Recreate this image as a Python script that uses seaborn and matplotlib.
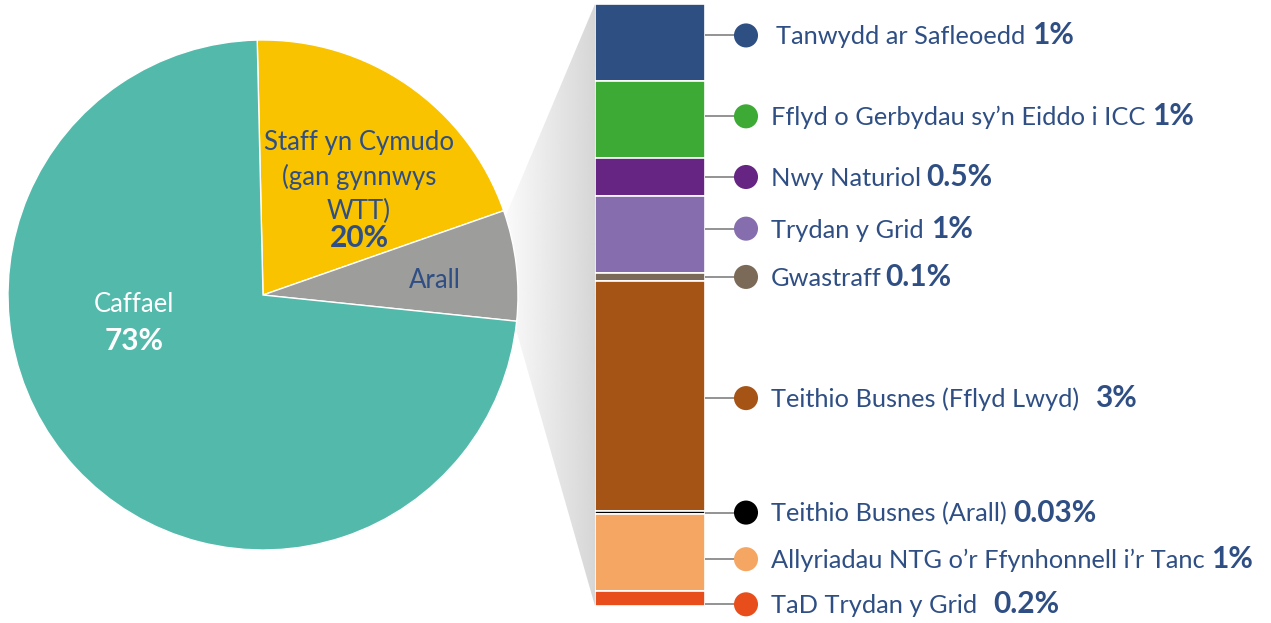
import matplotlib
matplotlib.use("Agg")
import matplotlib.pyplot as plt
import numpy as np
import seaborn as sns
from matplotlib.patches import Polygon

# ---------------- data ----------------
pie_labels = ["Staff yn Cymudo\n(gan gynnwys\nWTT)", "Arall", "Caffael"]
pie_pct_text = ["20%", "", "73%"]
pie_values = [20, 7, 73]
pie_colors = ["#F9C300", "#9D9D9C", "#53BAAB"]

bar_labels = [
    "Tanwydd ar Safleoedd",
    "Fflyd o Gerbydau sy\u2019n Eiddo i ICC",
    "Nwy Naturiol",
    "Trydan y Grid",
    "Gwastraff",
    "Teithio Busnes (Fflyd Lwyd)",
    "Teithio Busnes (Arall)",
    "Allyriadau NTG o\u2019r Ffynhonnell i\u2019r Tanc",
    "TaD Trydan y Grid",
]
bar_values = [1, 1, 0.5, 1, 0.1, 3, 0.03, 1, 0.2]
bar_pct_text = ["1%", "1%", "0.5%", "1%", "0.1%", "3%", "0.03%", "1%", "0.2%"]
bar_colors = ["#2E4F82", "#3DAA35", "#662483", "#866EAE", "#7B6A58",
              "#A65416", "#000000", "#F5A663", "#E84E1B"]

# ---------------- layout ----------------
W, H = 1271, 623
TXT = "#2F4F84"
FONT = ["Lato", "DejaVu Sans"]
FS = 18.3
FS_PIE = 18.5
FS_PCT = 21.5
FS_PIE_PCT = 21.5

sns.set_theme(style="white")
plt.rcParams["font.family"] = FONT

fig = plt.figure(figsize=(W / 100, H / 100), dpi=100)
ax = fig.add_axes([0, 0, 1, 1])


def Y(py):
    return H - py


# pie
cx, cy, R = 263, Y(295), 255
ax.pie(pie_values, colors=pie_colors, startangle=91.3, counterclock=False,
       center=(cx, cy), radius=R,
       wedgeprops=dict(edgecolor="white", linewidth=1.0), frame=True)

# connector gradient
poly = Polygon([(595, Y(4)), (595, Y(606)), (517, Y(333)), (480, Y(290)), (507, Y(213))],
               closed=True, transform=ax.transData, facecolor="none", edgecolor="none")
ax.add_patch(poly)
grad = np.linspace(0.99, 0.84, 256)[None, :]
im = ax.imshow(grad, cmap="gray", vmin=0, vmax=1, extent=[500, 595, Y(606), Y(4)],
               aspect="auto", zorder=0, interpolation="bilinear")
im.set_clip_path(poly)

# pie labels
ax.text(359, Y(177), pie_labels[0], ha="center", va="center", color=TXT,
        fontsize=FS_PIE, linespacing=1.42, zorder=5)
ax.text(359, Y(238), pie_pct_text[0], ha="center", va="center", color=TXT,
        fontsize=FS_PIE_PCT, fontweight="bold", zorder=5)
ax.text(435, Y(280), pie_labels[1], ha="center", va="center", color=TXT,
        fontsize=FS_PIE, zorder=5)
ax.text(134, Y(304), pie_labels[2], ha="center", va="center", color="white",
        fontsize=FS_PIE, zorder=5)
ax.text(134, Y(341), pie_pct_text[2], ha="center", va="center", color="white",
        fontsize=FS_PIE_PCT, fontweight="bold", zorder=5)

# stacked bar
total = sum(bar_values)
bx0, bx1, by0, by1 = 595, 705, 4, 606
bax = fig.add_axes([bx0 / W, (H - by1) / H, (bx1 - bx0) / W, (by1 - by0) / H])
bax.set_xlim(-0.5, 0.5)
bax.set_ylim(total, 0)
bax.axis("off")
cum = np.concatenate([[0], np.cumsum(bar_values)[:-1]])
for v, b, c in zip(bar_values, cum, bar_colors):
    bax.bar(0, v, bottom=b, width=1.0, color=c, edgecolor="white", linewidth=1.2)

# labels with markers
label_offsets = [-7, -3, 0, -6, 0, 2, 0, 7, 6]
centers = by0 + (cum + np.array(bar_values) / 2) / total * (by1 - by0)
label_y = centers + np.array(label_offsets)
mx = 746
for yy in label_y:
    ax.plot([bx1, mx], [Y(yy), Y(yy)], color="#808080", lw=1.2, zorder=2)
sns.scatterplot(x=[mx] * len(bar_labels), y=[Y(v) for v in label_y], hue=bar_labels,
                palette=dict(zip(bar_labels, bar_colors)), s=300, linewidth=0,
                legend=False, ax=ax, zorder=3)

ax.set_xlim(0, W)
ax.set_ylim(0, H)
ax.set_aspect("auto")
ax.axis("off")

gaps = [7, 7, 5, 7, 4, 16, 6, 6, 16]
renderer = fig.canvas.get_renderer()
for i, (lab, pct, yy) in enumerate(zip(bar_labels, bar_pct_text, label_y)):
    x0 = 776 if i == 0 else 771
    base = Y(yy + 9)
    t = ax.text(x0, base, lab, ha="left", va="baseline", color=TXT, fontsize=FS)
    bb = t.get_window_extent(renderer=renderer)
    ax.text(bb.x1 + gaps[i], base, pct, ha="left", va="baseline", color=TXT,
            fontsize=FS_PCT, fontweight="bold")

fig.savefig("out.png", dpi=100)
